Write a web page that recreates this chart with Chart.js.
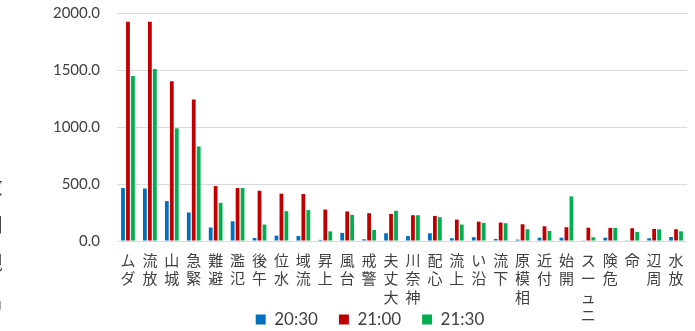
<!DOCTYPE html>
<html lang="ja">
<head>
<meta charset="utf-8">
<script src="https://cdn.jsdelivr.net/npm/chart.js@4.4.1/dist/chart.umd.min.js"></script>
<style>
  html, body { margin: 0; padding: 0; background: #fff; }
  #grafica { display: block; }
</style>
</head>
<body>
<canvas id="grafica" width="695" height="331"></canvas>
<script>
// 単語ごとの出現回数（時刻別）
const categorias = ['ダム', '放流', '城山', '緊急', '避難', '氾濫', '午後', '水位', '流域', '上昇',
  '台風', '警戒', '大丈夫', '神奈川', '心配', '上流', '沿い', '下流', '相模原', '付近',
  '開始', 'ニュース', '危険', '命', '周辺', '放水'];
const series = ['20:30', '21:00', '21:30'];
const valores2030 = [465, 461, 350, 250, 118, 173, 26, 47, 44, 10, 71, 15, 68, 44, 68, 24, 33, 18, 12, 29, 29, 6, 29, 6, 24, 35];
const valores2100 = [1923, 1923, 1402, 1241, 482, 465, 441, 415, 412, 276, 259, 244, 238, 226, 220, 188, 170, 162, 147, 129, 121, 117, 115, 112, 106, 103];
const valores2130 = [1447, 1508, 988, 829, 335, 465, 144, 262, 271, 85, 229, 97, 265, 226, 209, 144, 159, 156, 103, 88, 391, 33, 115, 79, 103, 85];
const ejeYMax = 2000;
const ejeYPaso = 500;
const tituloY = '出現回数';

const colores = ['#0070C0', '#C00000', '#00B050'];

// título vertical del eje Y, letras en pie, de abajo hacia arriba
const tituloEjeY = {
  id: 'tituloEjeY',
  afterDraw(chart) {
    const ctx = chart.ctx;
    const letras = [...tituloY].reverse();
    ctx.save();
    ctx.font = "19px 'Noto Sans CJK JP'";
    ctx.fillStyle = '#404040';
    ctx.textAlign = 'center';
    ctx.textBaseline = 'middle';
    letras.forEach((c, i) => ctx.fillText(c, -7, 187 + i * 38));
    ctx.restore();
  }
};

// etiquetas del eje X apiladas letra por letra (de abajo hacia arriba);
// se dibujan aparte para que no las recorte el área del eje
const etiquetasX = {
  id: 'etiquetasX',
  afterDraw(chart) {
    const ctx = chart.ctx;
    const eje = chart.scales.x;
    ctx.save();
    ctx.font = "15px 'Noto Sans CJK JP'";
    ctx.fillStyle = '#404040';
    ctx.textAlign = 'center';
    ctx.textBaseline = 'middle';
    categorias.forEach((cat, i) => {
      const x = eje.getPixelForTick(i);
      [...cat].reverse().forEach((c, j) => ctx.fillText(c, x, eje.top + 19 + j * 18.5));
    });
    ctx.restore();
  }
};

let chartPalabras = null;

function inicializarChartPalabras() {
  const ctx = document.getElementById('grafica').getContext('2d');
  const datos = [valores2030, valores2100, valores2130];

  chartPalabras = new Chart(ctx, {
    type: 'bar',
    data: {
      labels: categorias,
      datasets: series.map((s, i) => ({
        label: s,
        data: datos[i],
        backgroundColor: colores[i],
        borderWidth: 0,
        categoryPercentage: 0.68,
        barPercentage: 0.76
      }))
    },
    options: {
      responsive: false,
      animation: false,
      layout: {
        padding: { top: 13, left: 53, right: 8, bottom: 0 }
      },
      scales: {
        x: {
          grid: { display: false, drawTicks: false },
          border: { display: false },
          ticks: { display: false, autoSkip: false },
          afterFit: (scale) => { scale.height = 49; }
        },
        y: {
          min: 0,
          max: ejeYMax,
          grid: { color: '#d9d9d9', drawTicks: false },
          border: { display: false },
          ticks: {
            stepSize: ejeYPaso,
            padding: 17,
            color: '#404040',
            font: { family: 'Lato', size: 15 },
            callback: (v) => v.toFixed(1)
          },
          afterFit: (scale) => {
            scale.width = 64;
            scale.paddingTop = 0;
          }
        }
      },
      plugins: {
        legend: {
          position: 'bottom',
          maxHeight: 41,
          labels: {
            boxWidth: 10,
            boxHeight: 10,
            padding: 21,
            color: '#404040',
            font: { family: 'Lato', size: 17 }
          }
        },
        tooltip: { enabled: false }
      }
    },
    plugins: [tituloEjeY, etiquetasX]
  });
}

inicializarChartPalabras();
</script>
</body>
</html>
